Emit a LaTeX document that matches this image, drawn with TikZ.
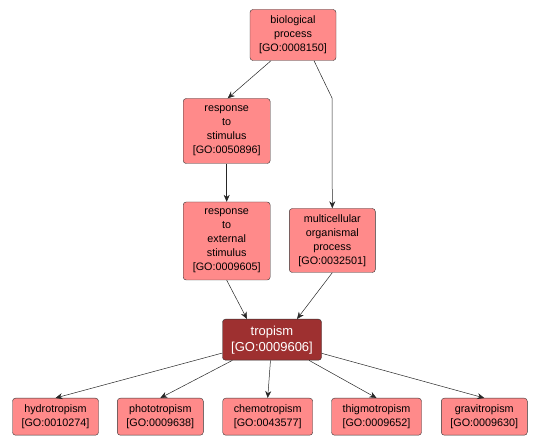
\documentclass[tikz,border=0pt]{standalone}
\usepackage{fontspec}
\setmainfont{Liberation Sans}
\usetikzlibrary{arrows.meta}
\definecolor{goterm}{RGB}{255,138,138}
\definecolor{gofocus}{RGB}{158,48,48}
\tikzset{
  term/.style={draw=black!80, fill=goterm, rounded corners=3pt, align=center,
    inner sep=1pt, font=\fontsize{10.8}{14}\selectfont, minimum width=86pt},
  focus/.style={term, fill=gofocus, text=white, font=\fontsize{13}{16}\selectfont},
  isa/.style={-{Stealth[length=7pt,width=6pt]}, black!85, line width=0.5pt}
}
\begin{document}
\begin{tikzpicture}[x=1pt,y=-1pt]
  \useasboundingbox (0,0) rectangle (539,446);
  % upper terms
  \node[term, minimum height=51pt] (bp) at (293,35) {biological\\process\\{[}GO:0008150{]}};
  \node[term, minimum width=87pt, minimum height=65pt] (rs) at (226.7,131) {response\\to\\stimulus\\{[}GO:0050896{]}};
  \node[term, minimum width=87pt, minimum height=78pt] (res) at (226.7,241) {response\\to\\external\\stimulus\\{[}GO:0009605{]}};
  \node[term, minimum height=64pt] (mop) at (332.3,240.5) {multicellular\\organismal\\process\\{[}GO:0032501{]}};
  \node[focus, minimum width=99pt, minimum height=41pt] (trop) at (272,339.7) {tropism\\{[}GO:0009606{]}};
  % children
  \node[term, minimum height=37pt] (hyd) at (55.5,416.7) {hydrotropism\\{[}GO:0010274{]}};
  \node[term, minimum height=37pt] (pho) at (160.3,416.7) {phototropism\\{[}GO:0009638{]}};
  \node[term, minimum width=90pt, minimum height=37pt] (che) at (267.7,416.7) {chemotropism\\{[}GO:0043577{]}};
  \node[term, minimum width=90pt, minimum height=37pt] (thi) at (376.5,416.7) {thigmotropism\\{[}GO:0009652{]}};
  \node[term, minimum height=37pt] (gra) at (484.3,416.7) {gravitropism\\{[}GO:0009630{]}};
  \coordinate (bend) at (332,98);

  \draw[isa] ([xshift=-22pt]bp.south) -- ([xshift=1pt]rs.north);
  \draw[isa] ([xshift=21pt]bp.south) -- (bend) -- (mop.north);
  \draw[isa] (rs) -- (res);
  \draw[isa] (res.south) -- ([xshift=-25pt]trop.north);
  \draw[isa] (mop.south) -- ([xshift=25pt]trop.north);
  \foreach \c in {hyd,pho,che,thi,gra}
    \draw[isa] (trop) -- (\c.north);
\end{tikzpicture}
\end{document}
